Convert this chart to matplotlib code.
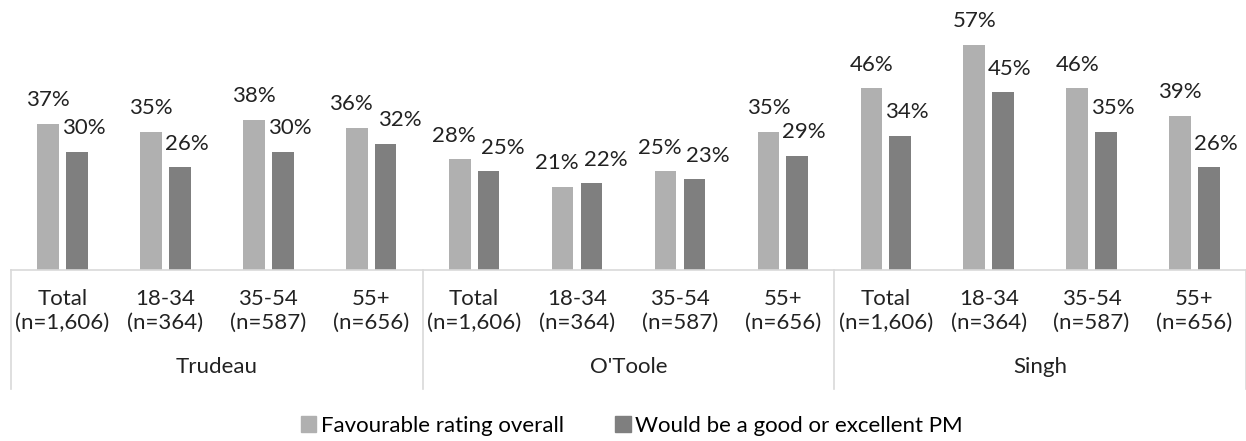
import numpy as np
import matplotlib.pyplot as plt
import matplotlib.transforms as mtransforms
from matplotlib.patches import Patch

plt.rcParams['font.family'] = ['Lato', 'DejaVu Sans']

# Data
leaders = ["Trudeau", "O'Toole", "Singh"]
groups = ["Total\n(n=1,606)", "18-34\n(n=364)", "35-54\n(n=587)", "55+\n(n=656)"]
favourable = [37, 35, 38, 36, 28, 21, 25, 35, 46, 57, 46, 39]
good_pm = [30, 26, 30, 32, 25, 22, 23, 29, 34, 45, 35, 26]
series_names = ["Favourable rating overall", "Would be a good or excellent PM"]

light = "#b0b0b0"
dark = "#7f7f7f"
fsize = 16

fig = plt.figure(figsize=(12.46, 4.41), dpi=100)
ax = fig.add_axes([11 / 1246, 171 / 441, 1235 / 1246, 270 / 441])

x = np.arange(len(favourable))
w = 0.21
b1 = ax.bar(x - 0.14, favourable, w, color=light)
b2 = ax.bar(x + 0.14, good_pm, w, color=dark)

# labels sit above the bars; push apart a bit when the two are close in height
for r1, r2, v1, v2 in zip(b1, b2, favourable, good_pm):
    close = abs(v1 - v2) < 6
    dx1 = -4 if close else 0
    dx2 = 10 if close else 5
    ax.annotate(f"{v1}%", (r1.get_x() + r1.get_width() / 2, v1),
                xytext=(dx1, 17), textcoords="offset points",
                ha="center", va="center", fontsize=fsize, color="#222222")
    ax.annotate(f"{v2}%", (r2.get_x() + r2.get_width() / 2, v2),
                xytext=(dx2, 17), textcoords="offset points",
                ha="center", va="center", fontsize=fsize, color="#222222")

ax.set_xlim(-0.5, len(x) - 0.5)
ax.set_ylim(0, 68.4)
ax.set_yticks([])
for s in ["top", "right", "left"]:
    ax.spines[s].set_visible(False)
ax.spines["bottom"].set_color("#d9d9d9")
ax.spines["bottom"].set_linewidth(1.2)

ax.set_xticks(x)
ax.set_xticklabels(groups * len(leaders), fontsize=fsize, linespacing=1.2,
                   color="#222222")
ax.tick_params(axis="x", length=0, pad=14)

trans = mtransforms.blended_transform_factory(ax.transData, ax.transAxes)
for i in range(len(leaders) + 1):
    xs = i * 4 - 0.5
    ax.plot([xs, xs], [0, -0.44], transform=trans, color="#d9d9d9",
            lw=1.2, clip_on=False)
for i, name in enumerate(leaders):
    ax.text(i * 4 + 1.5, -0.36, name, transform=trans, ha="center",
            va="center", fontsize=fsize, color="#222222")

handles = [Patch(color=light), Patch(color=dark)]
fig.legend(handles, series_names, loc="center", ncol=2,
           bbox_to_anchor=(0.507, 0.035), frameon=False, fontsize=fsize,
           handlelength=0.7, handleheight=0.7, handletextpad=0.2,
           columnspacing=2.3)

fig.savefig("out.png", dpi=100)
